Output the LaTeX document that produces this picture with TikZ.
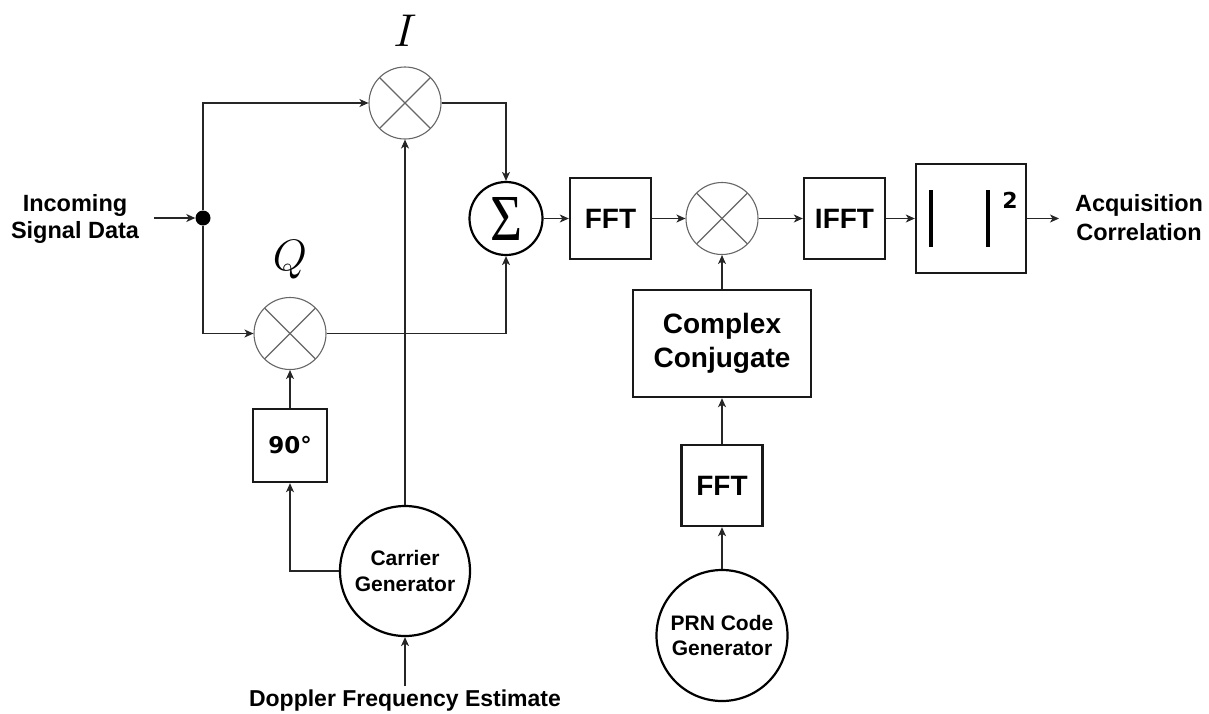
\RequirePackage{fix-cm}
\documentclass[tikz,border=0pt]{standalone}
\usepackage{fontspec}
\setmainfont{Liberation Sans}
\newfontfamily\djv{DejaVu Sans}
\newfontfamily\libser{Liberation Serif}
\usetikzlibrary{arrows.meta,calc}
\begin{document}
\begin{tikzpicture}[x=1pt,y=-1pt,
  conn/.style={line width=1.1pt, draw=black!85},
  arr/.style={conn,-{Stealth[length=9pt,width=8pt,inset=2.5pt]}},
  mixer/.style={circle, draw=black!60, line width=1.1pt, minimum size=72pt, inner sep=0pt,
     path picture={
       \draw[black!60,line width=1.1pt] (path picture bounding box.center) ++(45:37) -- ++(225:74);
       \draw[black!60,line width=1.1pt] (path picture bounding box.center) ++(135:37) -- ++(315:74);}},
  thickc/.style={circle, draw=black, line width=2.2pt, inner sep=0pt, align=center},
  blk/.style={draw=black!90, line width=2.4pt, inner sep=0pt, align=center},
  bigt/.style={font=\bfseries\fontsize{28}{34}\selectfont},
  lbl/.style={align=center, inner sep=0pt},
]
\useasboundingbox (0,0) rectangle (1209,713);

% nodes
\node[mixer] (mI) at (405,103) {};
\node[mixer] (mQ) at (290,333.5) {};
\node[lbl] (Ilab) at (405,31) {\fontsize{46}{46}\selectfont$I$};
\node[lbl] (Qlab) at (290,260) {\fontsize{44}{44}\selectfont$Q$};
\node[circle, fill=black, minimum size=15pt, inner sep=0pt] (dot) at (203,218) {};
\node[lbl, font=\bfseries\fontsize{23.5}{27}\selectfont] (inc) at (75,218.5) {Incoming\\Signal Data};
\coordinate (inS) at (154,218);

\node[thickc, minimum size=73pt] (sum) at (506,218.5) {\resizebox{32pt}{43pt}{\libser Σ}};
\node[blk, bigt, minimum width=81pt, minimum height=81pt] (fft1) at (610.5,218.5) {FFT};
\node[mixer] (m2) at (722,218.5) {};
\node[blk, bigt, minimum width=81pt, minimum height=81pt] (ifft) at (844.5,218.5) {IFFT};
\node[blk, minimum width=110pt, minimum height=109pt] (abs) at (971,218.5) {};
\draw[line width=4pt, black] ($(abs.center)+(-40,-28.5)$) -- ($(abs.center)+(-40,28.5)$);
\draw[line width=4pt, black] ($(abs.center)+(17,-28.5)$) -- ($(abs.center)+(17,28.5)$);
\node[lbl, font=\djv\bfseries\fontsize{22}{22}\selectfont] (sq) at ($(abs.center)+(39,-18)$) {2};
\coordinate (outS) at (1059,218.5);
\node[lbl, font=\bfseries\fontsize{23.5}{29}\selectfont] (acq) at (1139,218) {Acquisition\\Correlation};

\node[blk, bigt, minimum width=178pt, minimum height=107pt] (cc) at (722,343.5) {Complex\\Conjugate};
\node[blk, bigt, minimum width=81pt, minimum height=81pt] (fft2) at (722,485.5) {FFT};
\node[thickc, minimum size=131pt, font=\bfseries\fontsize{21}{25.5}\selectfont] (prn) at (722,635.5) {PRN Code\\Generator};

\node[blk, minimum width=74pt, minimum height=73pt, font=\djv\bfseries\fontsize{23}{23}\selectfont] (p90) at (290,445.5) {90°};
\node[thickc, minimum size=130pt, font=\bfseries\fontsize{21}{26}\selectfont] (car) at (405,571) {Carrier\\Generator};
\node[lbl, font=\bfseries\fontsize{23}{23}\selectfont] (dop) at (405,701) {Doppler Frequency Estimate};
\coordinate (dopS) at (405,686);

% connectors
\draw[arr] (inS) -- (dot);
\draw[arr] (dot) |- (mI);
\draw[arr] (dot) |- (mQ);
\draw[arr] (mI) -| (sum);
\draw[arr] (mQ) -| (sum);
\draw[arr] (car) -- (mI);
\draw[arr] (car) -| (p90);
\draw[arr] (p90) -- (mQ);
\draw[arr] (dopS) -- (car);
\draw[arr] (sum) -- (fft1);
\draw[arr] (fft1) -- (m2);
\draw[arr] (m2) -- (ifft);
\draw[arr] (ifft) -- (abs);
\draw[arr] (abs) -- (outS);
\draw[arr] (cc) -- (m2);
\draw[arr] (fft2) -- (cc);
\draw[arr] (prn) -- (fft2);
\end{tikzpicture}
\end{document}
